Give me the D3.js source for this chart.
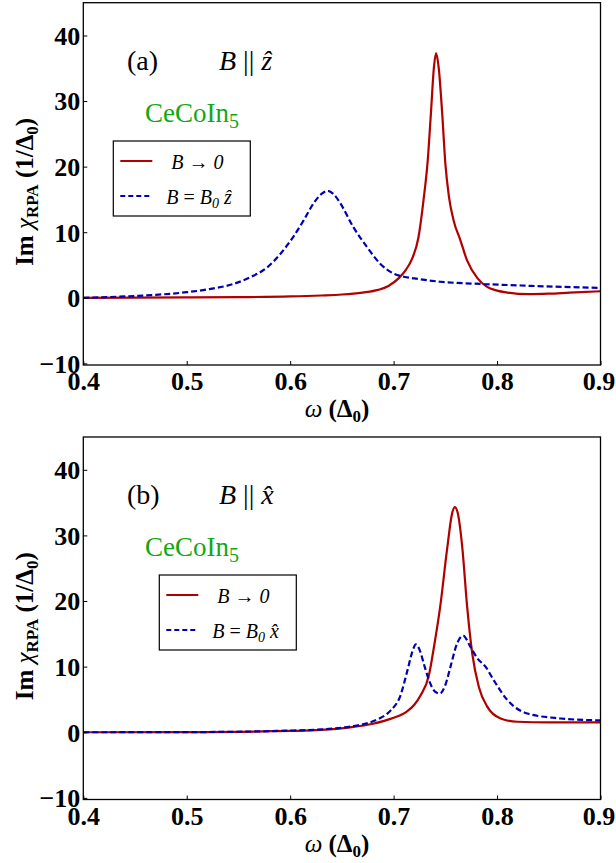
<!DOCTYPE html>
<html>
<head>
<meta charset="utf-8">
<script src="https://cdn.jsdelivr.net/npm/d3@7"></script>
<style>
  body { margin: 0; background: #fff; }
  svg { display: block; }
  text { font-family: "Liberation Serif", "Times New Roman", serif; }
</style>
</head>
<body>
<svg id="chart" width="616" height="863"></svg>
<script>
// ---- data ----
const omegaTicks = [0.4, 0.5, 0.6, 0.7, 0.8, 0.9];
const chiTicks = [-10, 0, 10, 20, 30, 40];

// panel (a): B || z
const redA = [[0.40,0.0],[0.45,0.02],[0.50,0.05],[0.55,0.1],[0.60,0.2],[0.63,0.35],[0.65,0.5],[0.67,0.8],
  [0.685,1.2],[0.695,1.8],[0.705,3.0],[0.712,4.3],[0.718,6.0],[0.724,9.2],[0.729,15.0],[0.733,21.0],
  [0.736,28.0],[0.739,35.2],[0.741,37.3],[0.7435,35.2],[0.747,28.0],[0.750,20.5],[0.7535,15.4],
  [0.758,11.8],[0.7645,8.8],[0.771,5.7],[0.781,3.0],[0.79,1.7],[0.80,1.1],[0.81,0.8],[0.83,0.55],
  [0.85,0.62],[0.87,0.78],[0.9,1.0]];
const blueA = [[0.40,0.0],[0.44,0.2],[0.47,0.45],[0.50,0.85],[0.523,1.35],[0.545,2.1],[0.561,3.1],[0.5775,4.6],
  [0.59,6.6],[0.603,9.3],[0.613,11.8],[0.623,14.5],[0.630,15.8],[0.636,16.3],[0.642,15.8],[0.6485,14.4],
  [0.661,10.8],[0.674,7.8],[0.687,5.2],[0.700,3.7],[0.71,3.2],[0.72,2.95],[0.745,2.45],[0.787,2.1],
  [0.836,1.8],[0.9,1.5]];

// panel (b): B || x
const redB = [[0.4,0.0],[0.5,0.02],[0.6,0.2],[0.63,0.35],[0.658,0.75],[0.68,1.3],[0.69,1.7],[0.70,2.2],
  [0.713,3.2],[0.72,4.2],[0.726,5.6],[0.734,8.6],[0.739,13.0],[0.745,19.1],[0.752,28.3],[0.7566,33.4],
  [0.7592,34.3],[0.762,33.4],[0.7663,28.3],[0.7711,19.1],[0.776,12.0],[0.7824,6.9],[0.7905,3.9],
  [0.8034,2.1],[0.8196,1.6],[0.85,1.5],[0.9,1.5]];
const blueB = [[0.4,0.0],[0.5,0.02],[0.6,0.25],[0.64,0.55],[0.66,0.9],[0.675,1.4],[0.685,2.0],[0.697,3.3],
  [0.7066,5.6],[0.713,9.2],[0.718,12.2],[0.7215,13.4],[0.7255,12.4],[0.73,10.0],[0.735,7.6],[0.74,6.2],
  [0.7447,5.9],[0.75,7.2],[0.755,10.0],[0.7615,13.6],[0.7673,14.7],[0.7743,13.0],[0.7808,11.3],
  [0.7888,10.0],[0.7969,7.9],[0.81,4.9],[0.8292,2.85],[0.8615,2.1],[0.9,1.8]];

const RED = "#b00000", BLUE = "#0000b0", GREEN = "#12a812";
const svg = d3.select("#chart");

const x = d3.scaleLinear().domain([0.4, 0.9]).range([83.3, 600.5]);

function drawPanel(opt) {
  const y = d3.scaleLinear().domain([-10.25, 45]).range([opt.bottom, opt.top]);
  const g = svg.append("g");

  const line = d3.line().x(d => x(d[0])).y(d => y(d[1])).curve(d3.curveMonotoneX);

  // curves
  g.append("path").datum(opt.red).attr("d", line)
    .attr("fill", "none").attr("stroke", RED).attr("stroke-width", 2.2);
  g.append("path").datum(opt.blue).attr("d", line)
    .attr("fill", "none").attr("stroke", BLUE).attr("stroke-width", 2.2)
    .attr("stroke-dasharray", "6,3");

  // frame
  g.append("rect").attr("x", x(0.4)).attr("y", opt.top)
    .attr("width", x(0.9) - x(0.4)).attr("height", opt.bottom - opt.top)
    .attr("fill", "none").attr("stroke", "#000").attr("stroke-width", 1.3);

  // axes, ticks pointing inward
  const xa = g.append("g").attr("transform", `translate(0,${opt.bottom})`)
    .call(d3.axisBottom(x).tickValues(omegaTicks).tickSize(-4).tickSizeOuter(0).tickFormat(d3.format(".1f")));
  xa.select(".domain").remove();
  xa.selectAll("text").attr("y", 25).attr("dy", null)
    .attr("x", d => d === 0.9 ? -2 : 0)
    .attr("font-size", 26).attr("font-weight", "bold").attr("fill", "#000");

  const ya = g.append("g").attr("transform", `translate(${x(0.4)},0)`)
    .call(d3.axisLeft(y).tickValues(chiTicks).tickSize(-4).tickSizeOuter(0).tickFormat(d => d < 0 ? "\u2212" + Math.abs(d) : d));
  ya.select(".domain").remove();
  ya.selectAll("text").attr("x", -3).attr("dy", "0.34em")
    .attr("font-size", 26).attr("font-weight", "bold").attr("fill", "#000");

  // x axis title
  const xt = g.append("text").attr("x", 337).attr("y", opt.bottom + 52)
    .attr("text-anchor", "middle").attr("font-size", 25);
  xt.append("tspan").attr("font-style", "italic").text("\u03c9");
  xt.append("tspan").attr("font-weight", "bold").text(" (\u0394");
  xt.append("tspan").attr("font-weight", "bold").attr("font-size", 17).attr("dy", 5).text("0");
  xt.append("tspan").attr("font-weight", "bold").attr("dy", -5).text(")");

  // y axis title
  const yt = g.append("text")
    .attr("transform", `translate(33,${(opt.top + opt.bottom) / 2 + 8}) rotate(-90)`)
    .attr("text-anchor", "middle").attr("font-size", 25).attr("font-weight", "bold");
  yt.append("tspan").text("Im ");
  yt.append("tspan").attr("font-style", "italic").attr("font-weight", "normal").text("\u03c7");
  yt.append("tspan").attr("font-size", 17).attr("dy", 5).text("RPA");
  yt.append("tspan").attr("dy", -5).text(" (1/\u0394");
  yt.append("tspan").attr("font-size", 17).attr("dy", 5).text("0");
  yt.append("tspan").attr("dy", -5).text(")");

  // panel labels
  g.append("text").attr("x", 127).attr("y", opt.top + 67).attr("font-size", 28).text(opt.tag);
  const bl = g.append("text").attr("x", 219).attr("y", opt.top + 67).attr("font-size", 28);
  bl.append("tspan").attr("font-style", "italic").text("B");
  bl.append("tspan").text(" || ");
  bl.append("tspan").attr("font-style", "italic").text(opt.dir + "\u0302");

  const ce = g.append("text").attr("x", 145).attr("y", opt.top + 119)
    .attr("font-size", 27).attr("fill", GREEN);
  ce.append("tspan").text("CeCoIn");
  ce.append("tspan").attr("font-size", 20).attr("dy", 6).text("5");

  // legend
  const L = opt.legend;
  g.append("rect").attr("x", L.x).attr("y", L.y).attr("width", L.w).attr("height", L.h)
    .attr("fill", "#fff").attr("stroke", "#000").attr("stroke-width", 1.2);
  g.append("line").attr("x1", L.x + 7).attr("x2", L.x + 39).attr("y1", L.y + 20).attr("y2", L.y + 20)
    .attr("stroke", RED).attr("stroke-width", 2);
  g.append("line").attr("x1", L.x + 7).attr("x2", L.x + 39).attr("y1", L.y + 55).attr("y2", L.y + 55)
    .attr("stroke", BLUE).attr("stroke-width", 2).attr("stroke-dasharray", "5,3");
  const t1 = g.append("text").attr("x", L.x + 58).attr("y", L.y + 28)
    .attr("font-size", 20).attr("font-style", "italic");
  t1.append("tspan").text("B ");
  t1.append("tspan").attr("font-style", "normal").text("\u2192");
  t1.append("tspan").text(" 0");
  const t2 = g.append("text").attr("x", L.x + 53).attr("y", L.y + 63)
    .attr("font-size", 20).attr("font-style", "italic");
  t2.append("tspan").text("B");
  t2.append("tspan").attr("font-style", "normal").text(" = ");
  t2.append("tspan").text("B");
  t2.append("tspan").attr("font-size", 14).attr("dy", 4).text("0");
  t2.append("tspan").attr("dy", -4).text(" " + opt.dir + "\u0302");
}

drawPanel({ top: 2.7, bottom: 365, red: redA, blue: blueA, tag: "(a)", dir: "z",
  legend: { x: 113.3, y: 141, w: 137, h: 75 } });
drawPanel({ top: 437, bottom: 799.5, red: redB, blue: blueB, tag: "(b)", dir: "x",
  legend: { x: 159.3, y: 575, w: 137, h: 75 } });
</script>
</body>
</html>
